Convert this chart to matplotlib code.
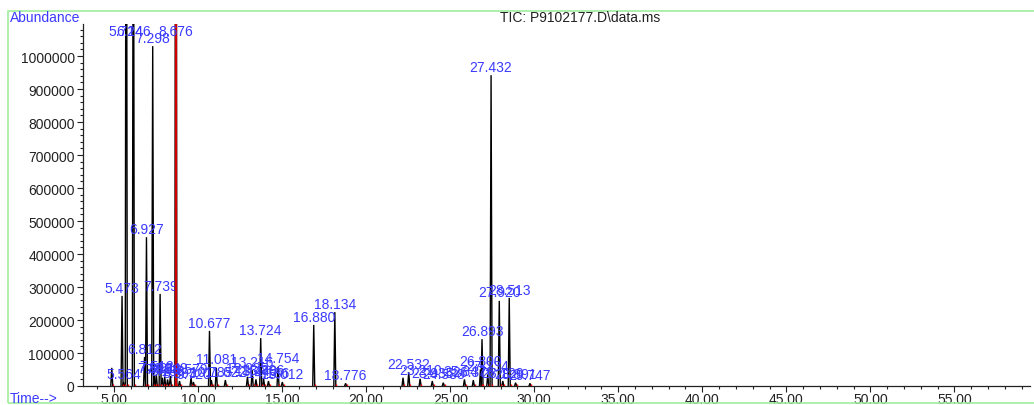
import matplotlib
matplotlib.use("Agg")
import matplotlib.pyplot as plt
from matplotlib.patches import Rectangle
from matplotlib.ticker import MultipleLocator

plt.rcParams['font.family'] = ['Liberation Sans', 'DejaVu Sans']

# retention times (min), peak heights (abundance) and labels
times = [4.862, 5.473, 5.564, 5.724, 6.146, 6.812, 6.927, 7.298, 7.391, 7.512,
         7.739, 7.868, 8.011, 8.183, 8.349, 8.676, 8.893, 9.579, 9.720, 10.677,
         10.785, 11.081, 11.622, 12.935, 13.216, 13.440, 13.724, 13.896, 14.186, 14.754,
         15.012, 16.880, 18.134, 18.776, 22.193, 22.532, 23.210, 23.935, 24.588, 25.847,
         26.376, 26.800, 26.893, 27.234, 27.432, 27.920, 28.129, 28.513, 28.891, 29.747]
heights = [55000, 273000, 12000, 2500000, 2000000, 88000, 451000, 1030000, 30000, 35000,
           279000, 25000, 28000, 20000, 30000, 3000000, 15000, 25000, 12000, 167000,
           18000, 55000, 18000, 28000, 48000, 20000, 145000, 22000, 15000, 58000,
           12000, 185000, 224000, 8000, 25000, 42000, 22000, 15000, 10000, 20000,
           18000, 50000, 142000, 35000, 942000, 258000, 15000, 267000, 10000, 8000]
labels = ['', '5.473', '5.564', '5.724', '6.146', '6.812', '6.927', '7.298', '7.391', '7.512',
          '7.739', '7.868', '8.011', '8.183', '8.349', '8.676', '8.893', '9.579', '9.720', '10.677',
          '10.785', '11.081', '11.622', '12.935', '13.216', '13.440', '13.724', '13.896', '14.186', '14.754',
          '15.012', '16.880', '18.134', '18.776', '', '22.532', '23.210', '23.935', '24.588', '25.847',
          '26.376', '26.800', '26.893', '27.234', '27.432', '27.920', '28.129', '28.513', '28.891', '29.747']
red_peak = '8.676'

xmin, xmax = 3.15, 59.5
ymax = 1.097e6
blue = '#3a3aff'
fs = 10

fig = plt.figure(figsize=(10.34, 4.06), dpi=100)
ax = fig.add_axes([83 / 1034, 19 / 406, 947 / 1034, 362 / 406])

hw = 0.06
for t, h, lab in zip(times, heights, labels):
    ax.plot([t - hw, t, t + hw], [0, h, 0], color='black', lw=1.0, solid_joinstyle='miter')
    if lab == red_peak:
        ax.vlines(t, 0, h, color='#d00000', lw=1.6, zorder=3)
    # integration marker at the baseline
    ax.vlines(t + 0.08, 0, 6000, color='red', lw=1.0, zorder=3)
    if lab:
        if h > ymax:
            ax.text(t, ymax, lab, ha='center', va='top', color=blue, fontsize=fs)
        else:
            ax.annotate(lab, (t, h), xytext=(0, 1), textcoords='offset points',
                        ha='center', va='bottom', color=blue, fontsize=fs)

ax.set_xlim(xmin, xmax)
ax.set_ylim(0, ymax)
ax.xaxis.set_major_locator(MultipleLocator(5))
ax.xaxis.set_minor_locator(MultipleLocator(1))
ax.yaxis.set_major_locator(MultipleLocator(100000))
ax.yaxis.set_minor_locator(MultipleLocator(20000))
ax.xaxis.set_major_formatter(matplotlib.ticker.FormatStrFormatter('%.2f'))
ax.yaxis.set_major_formatter(matplotlib.ticker.FormatStrFormatter('%d'))
ax.tick_params(axis='y', which='major', labelsize=fs, length=4, width=0.8, colors='#222222', pad=2)
ax.tick_params(axis='x', which='major', labelsize=fs, length=4, width=0.8, colors='#222222', pad=0.5)
ax.tick_params(axis='both', which='minor', length=2.5, width=0.8, colors='#222222')
for s in ['top', 'right']:
    ax.spines[s].set_visible(False)
for s in ['left', 'bottom']:
    ax.spines[s].set_linewidth(0.9)
    ax.spines[s].set_color('#222222')

# light green frame around the figure
fig.add_artist(Rectangle((8 / 1034, 2 / 406), 1040 / 1034, 392 / 406, transform=fig.transFigure,
                         fill=False, edgecolor='#a0eea0', lw=1.2))

fig.text(10 / 1034, 1 - 18 / 406, 'Abundance', color=blue, fontsize=fs, va='center', ha='left')
fig.text(580 / 1034, 1 - 18 / 406, 'TIC: P9102177.D\\data.ms', color='#222222', fontsize=fs,
         va='center', ha='center')
fig.text(10 / 1034, 1 - 399 / 406, 'Time-->', color=blue, fontsize=fs, va='center', ha='left')

fig.savefig('out.png', dpi=100)
